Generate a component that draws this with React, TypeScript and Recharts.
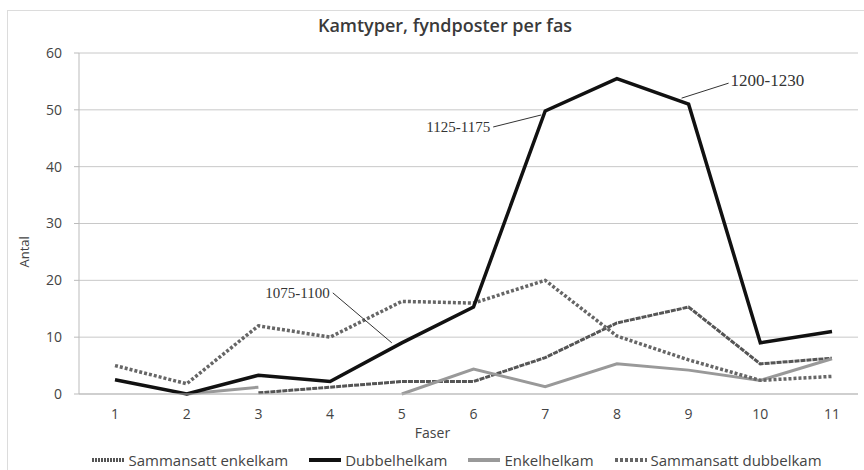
import { CartesianGrid, LabelList, Legend, Line, LineChart, XAxis, YAxis } from 'recharts'

const phases = ['1', '2', '3', '4', '5', '6', '7', '8', '9', '10', '11']
const sammansattEnkelkam = [null, null, 0.2, 1.2, 2.2, 2.2, 6.4, 12.5, 15.3, 5.3, 6.3]
const dubbelhelkam = [2.5, 0, 3.3, 2.2, 9, 15.3, 49.8, 55.5, 51, 9, 11]
const enkelhelkam = [null, 0, 1.2, null, 0, 4.4, 1.3, 5.3, 4.2, 2.4, 6.2]
const sammansattDubbelkam = [5, 1.8, 12, 10, 16.3, 16, 20, 10.2, 6, 2.4, 3.1]
const periods = ['', '', '', '', '1075-1100', '', '1125-1175', '', '1200-1230', '', '']

const chartData = phases.map((fas, i) => ({
  fas,
  sammansattEnkelkam: sammansattEnkelkam[i],
  dubbelhelkam: dubbelhelkam[i],
  enkelhelkam: enkelhelkam[i],
  sammansattDubbelkam: sammansattDubbelkam[i],
  period: periods[i],
}))

const font = '"Open Sans", sans-serif'

// leader line offsets from the data point, per annotated phase
const calloutOffsets: Record<
  string,
  { from: [number, number]; to: [number, number]; anchor: 'start' | 'end'; size: number }
> = {
  '1075-1100': { from: [-69, -50], to: [-10, 0], anchor: 'end', size: 15 },
  '1125-1175': { from: [-52, 16], to: [-4, 4], anchor: 'end', size: 15 },
  '1200-1230': { from: [40, -21], to: [-7, -6], anchor: 'start', size: 17 },
}

function Callout(props: any) {
  const { x, y, value } = props
  const off = calloutOffsets[value]
  if (!value || !off) return null
  const tx = x + off.from[0] + (off.anchor === 'end' ? -3 : 2)
  const ty = y + off.from[1]
  return (
    <g>
      <line
        x1={x + off.from[0]}
        y1={y + off.from[1]}
        x2={x + off.to[0]}
        y2={y + off.to[1]}
        stroke="#333"
        strokeWidth={1}
      />
      <text
        x={tx}
        y={ty}
        dy={off.anchor === 'end' ? 5 : 3}
        textAnchor={off.anchor}
        fontFamily='"Liberation Serif", serif'
        fontSize={off.size}
        fill="#333"
      >
        {value}
      </text>
    </g>
  )
}

const legendItems = [
  { name: 'Sammansatt enkelkam', color: '#555', width: 4, dash: '2 1' },
  { name: 'Dubbelhelkam', color: '#111', width: 4, dash: undefined },
  { name: 'Enkelhelkam', color: '#999', width: 4, dash: undefined },
  { name: 'Sammansatt dubbelkam', color: '#666', width: 4, dash: '3 2' },
]

function ChartLegend() {
  return (
    <div
      style={{
        height: 30,
        paddingTop: 10,
        boxSizing: 'border-box',
        display: 'flex',
        justifyContent: 'center',
        alignItems: 'center',
        gap: 21,
        fontFamily: font,
        fontSize: 15,
        color: '#444',
        paddingLeft: 56,
      }}
    >
      {legendItems.map((item) => (
        <div key={item.name} style={{ display: 'flex', alignItems: 'center', gap: 4 }}>
          <svg width={32} height={8}>
            <line
              x1={0}
              y1={4}
              x2={32}
              y2={4}
              stroke={item.color}
              strokeWidth={item.width}
              strokeDasharray={item.dash}
            />
          </svg>
          <span>{item.name}</span>
        </div>
      ))}
    </div>
  )
}

export default function App() {
  return (
    <div style={{ position: 'absolute', left: 0, top: 0, width: 864, height: 470, background: '#fff' }}>
      <div
        style={{
          position: 'absolute',
          left: 7,
          top: 10,
          width: 870,
          height: 480,
          border: '1px solid #dcdcdc',
        }}
      />
      <div
        style={{
          position: 'absolute',
          left: 0,
          width: 890,
          top: 13,
          textAlign: 'center',
          fontFamily: font,
          fontSize: 18,
          fontWeight: 600,
          color: '#3a3a3a',
        }}
      >
        Kamtyper, fyndposter per fas
      </div>
      <LineChart
        width={864}
        height={470}
        data={chartData}
        margin={{ top: 53, right: 6, left: 0, bottom: 0 }}
        style={{ position: 'absolute', left: 0, top: 0 }}
      >
        <CartesianGrid vertical={false} stroke="#c8c8c8" />
        <XAxis
          dataKey="fas"
          height={46}
          padding={{ left: 36, right: 26 }}
          axisLine={{ stroke: '#bbb' }}
          tickLine={false}
          tick={{ fill: '#444', fontSize: 14, fontFamily: font }}
          tickMargin={9}
          label={{
            value: 'Faser',
            position: 'insideBottom',
            offset: 2,
            dx: -36,
            fill: '#444',
            fontSize: 14,
            fontFamily: font,
          }}
        />
        <YAxis
          width={79}
          domain={[0, 60]}
          ticks={[0, 10, 20, 30, 40, 50, 60]}
          axisLine={{ stroke: '#bbb' }}
          tickLine={{ stroke: '#bbb' }}
          tickSize={5}
          tickMargin={12}
          tick={{ fill: '#444', fontSize: 14, fontFamily: font }}
          label={{
            value: 'Antal',
            angle: -90,
            position: 'insideLeft',
            offset: 24,
            dy: 44,
            fill: '#444',
            fontSize: 13,
            fontFamily: font,
          }}
        />
        <Legend verticalAlign="bottom" content={() => <ChartLegend />} />
        <Line
          dataKey="sammansattEnkelkam"
          name="Sammansatt enkelkam"
          stroke="#555"
          strokeWidth={3}
          strokeDasharray="5 1"
          dot={false}
          isAnimationActive={false}
        />
        <Line
          dataKey="enkelhelkam"
          name="Enkelhelkam"
          stroke="#999"
          strokeWidth={3}
          dot={false}
          isAnimationActive={false}
        />
        <Line
          dataKey="sammansattDubbelkam"
          name="Sammansatt dubbelkam"
          stroke="#666"
          strokeWidth={3.5}
          strokeDasharray="3 2"
          dot={false}
          isAnimationActive={false}
        />
        <Line
          dataKey="dubbelhelkam"
          name="Dubbelhelkam"
          stroke="#111"
          strokeWidth={3.5}
          dot={false}
          isAnimationActive={false}
        >
          <LabelList dataKey="period" content={Callout} />
        </Line>
      </LineChart>
    </div>
  )
}
